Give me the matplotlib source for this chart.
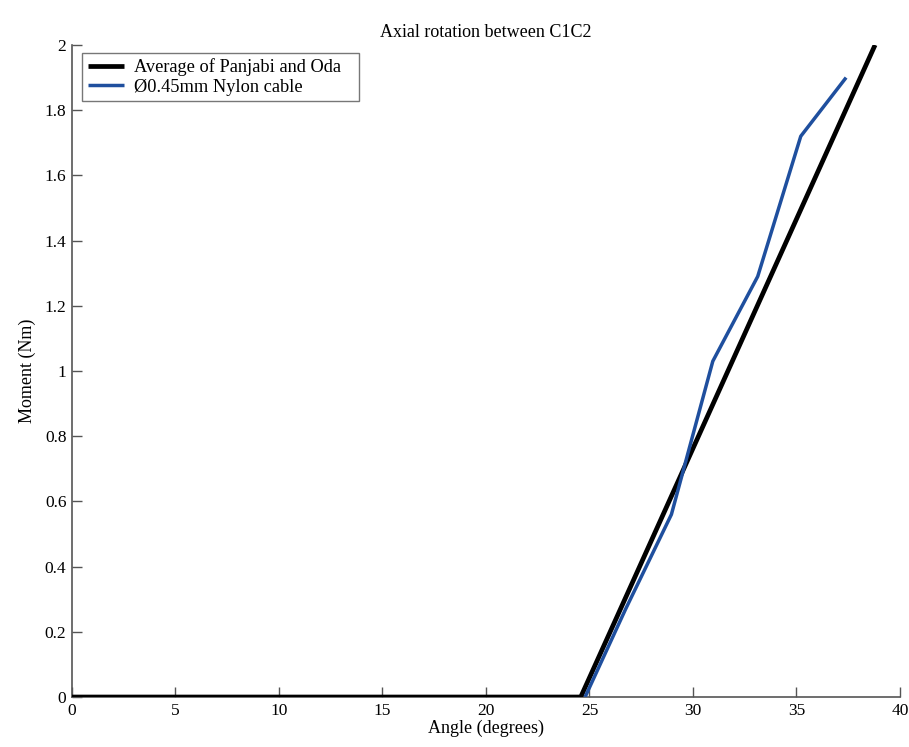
import matplotlib
matplotlib.use("Agg")
import matplotlib.pyplot as plt

# Average of published curves (Panjabi and Oda)
avg_angle = [0.0, 24.58, 38.8]
avg_moment = [0.0, 0.0, 2.0]

# Nylon cable specimen measurements
nylon_angle = [24.79, 26.75, 28.96, 30.96, 33.13, 35.21, 37.4]
nylon_moment = [0.0, 0.27, 0.56, 1.03, 1.29, 1.72, 1.90]

x_ticks = [0, 5, 10, 15, 20, 25, 30, 35, 40]
y_ticks = [0, 0.2, 0.4, 0.6, 0.8, 1.0, 1.2, 1.4, 1.6, 1.8, 2.0]
y_tick_labels = ["0", "0.2", "0.4", "0.6", "0.8", "1", "1.2", "1.4", "1.6", "1.8", "2"]

plt.rcParams['font.family'] = ['Liberation Serif', 'DejaVu Serif']

fig = plt.figure(figsize=(9.09, 7.47), dpi=100)
ax = fig.add_axes([0.0792, 0.0669, 0.9108, 0.8729])

ax.plot(avg_angle, avg_moment, color='black', lw=3.4, label='Average of Panjabi and Oda',
        solid_capstyle='butt', zorder=3)
ax.plot(nylon_angle, nylon_moment, color='#1f4f9e', lw=2.5, label='Ø0.45mm Nylon cable',
        solid_capstyle='butt', zorder=4)

ax.set_xlim(0, 40)
ax.set_ylim(0, 2)
ax.set_xticks(x_ticks)
ax.set_yticks(y_ticks)
ax.set_yticklabels(y_tick_labels)
ax.tick_params(direction='in', length=7, width=1, color='#555555', labelsize=12.5, pad=4)

for side in ('top', 'right'):
    ax.spines[side].set_visible(False)
for side in ('left', 'bottom'):
    ax.spines[side].set_color('#555555')
    ax.spines[side].set_linewidth(1.2)

ax.set_xlabel('Angle (degrees)', fontsize=13, labelpad=1)
ax.set_ylabel('Moment (Nm)', fontsize=13, labelpad=6)
ax.set_title('Axial rotation between C1C2', fontsize=13, pad=6)

leg = ax.legend(loc='upper left', bbox_to_anchor=(0.0121, 0.5, 0.3345, 0.488),
                mode='expand', fontsize=13.2,
                frameon=True, fancybox=False, edgecolor='#555555', handlelength=2.0,
                borderpad=0.3, labelspacing=0.14, handletextpad=0.55, borderaxespad=0)
leg.get_frame().set_linewidth(1.0)

fig.savefig('out.png', dpi=100)
